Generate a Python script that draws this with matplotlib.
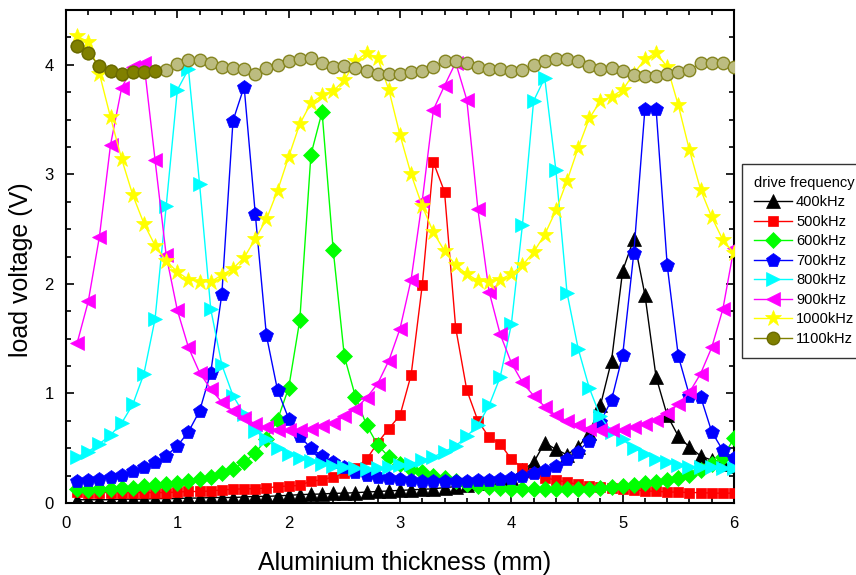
import matplotlib
matplotlib.use('Agg')
import matplotlib.pyplot as plt
from matplotlib.ticker import MultipleLocator

plt.rcParams['font.family'] = ['Liberation Sans', 'DejaVu Sans']

# aluminium thickness (mm)
thickness = [0.1, 0.2, 0.3, 0.4, 0.5, 0.6, 0.7, 0.8, 0.9, 1.0,
             1.1, 1.2, 1.3, 1.4, 1.5, 1.6, 1.7, 1.8, 1.9, 2.0,
             2.1, 2.2, 2.3, 2.4, 2.5, 2.6, 2.7, 2.8, 2.9, 3.0,
             3.1, 3.2, 3.3, 3.4, 3.5, 3.6, 3.7, 3.8, 3.9, 4.0,
             4.1, 4.2, 4.3, 4.4, 4.5, 4.6, 4.7, 4.8, 4.9, 5.0,
             5.1, 5.2, 5.3, 5.4, 5.5, 5.6, 5.7, 5.8, 5.9, 6.0]

# load voltage (V) per drive frequency
v400 = [0.03, 0.03, 0.03, 0.03, 0.035, 0.035, 0.035, 0.04, 0.04, 0.04,
        0.045, 0.045, 0.05, 0.05, 0.05, 0.055, 0.06, 0.06, 0.065, 0.07,
        0.076, 0.08, 0.082, 0.088, 0.09, 0.094, 0.10, 0.105, 0.11, 0.115,
        0.12, 0.125, 0.13, 0.14, 0.15, 0.16, 0.18, 0.19, 0.21, 0.23,
        0.30, 0.37, 0.55, 0.49, 0.44, 0.51, 0.64, 0.89, 1.30, 2.12,
        2.41, 1.90, 1.15, 0.80, 0.61, 0.51, 0.43, 0.39, 0.36, 0.34]
v500 = [0.10, 0.095, 0.095, 0.095, 0.095, 0.095, 0.095, 0.095, 0.095, 0.10,
        0.105, 0.105, 0.11, 0.12, 0.125, 0.13, 0.13, 0.137, 0.15, 0.155,
        0.16, 0.20, 0.21, 0.24, 0.27, 0.32, 0.40, 0.55, 0.68, 0.80,
        1.17, 1.99, 3.11, 2.84, 1.60, 1.03, 0.75, 0.60, 0.54, 0.40,
        0.32, 0.27, 0.23, 0.21, 0.19, 0.17, 0.155, 0.15, 0.137, 0.13,
        0.12, 0.11, 0.107, 0.10, 0.10, 0.095, 0.095, 0.09, 0.09, 0.09]
v600 = [0.125, 0.12, 0.125, 0.13, 0.137, 0.14, 0.155, 0.167, 0.17, 0.185,
        0.20, 0.22, 0.24, 0.27, 0.31, 0.37, 0.46, 0.58, 0.76, 1.05,
        1.67, 3.18, 3.57, 2.31, 1.34, 0.97, 0.71, 0.53, 0.42, 0.36,
        0.31, 0.28, 0.25, 0.23, 0.20, 0.175, 0.155, 0.145, 0.135, 0.13,
        0.125, 0.125, 0.125, 0.125, 0.125, 0.13, 0.13, 0.14, 0.15, 0.155,
        0.167, 0.18, 0.19, 0.21, 0.23, 0.26, 0.30, 0.36, 0.42, 0.59]
v700 = [0.20, 0.21, 0.22, 0.24, 0.26, 0.29, 0.33, 0.37, 0.43, 0.52,
        0.65, 0.84, 1.19, 1.91, 3.49, 3.80, 2.64, 1.53, 1.03, 0.77,
        0.61, 0.50, 0.43, 0.37, 0.33, 0.28, 0.26, 0.24, 0.23, 0.22,
        0.21, 0.20, 0.20, 0.20, 0.20, 0.20, 0.21, 0.21, 0.22, 0.23,
        0.25, 0.27, 0.30, 0.34, 0.40, 0.47, 0.57, 0.74, 0.94, 1.35,
        2.28, 3.60, 3.60, 2.17, 1.34, 0.98, 0.97, 0.65, 0.48, 0.41]
v800 = [0.42, 0.47, 0.54, 0.62, 0.73, 0.90, 1.18, 1.68, 2.71, 3.77,
        3.96, 2.91, 1.77, 1.26, 0.98, 0.81, 0.66, 0.58, 0.50, 0.45,
        0.41, 0.38, 0.36, 0.34, 0.33, 0.32, 0.31, 0.32, 0.33, 0.35,
        0.36, 0.39, 0.42, 0.47, 0.52, 0.61, 0.71, 0.89, 1.15, 1.63,
        2.54, 3.67, 3.88, 3.04, 1.92, 1.41, 1.05, 0.79, 0.65, 0.58,
        0.50, 0.45, 0.40, 0.37, 0.35, 0.33, 0.33, 0.33, 0.32, 0.32]
v900 = [1.46, 1.84, 2.43, 3.27, 3.79, 3.98, 4.02, 3.13, 2.26, 1.76,
        1.42, 1.19, 1.04, 0.92, 0.84, 0.78, 0.72, 0.69, 0.67, 0.67,
        0.67, 0.68, 0.70, 0.73, 0.79, 0.86, 0.96, 1.09, 1.30, 1.59,
        2.04, 2.76, 3.59, 3.81, 4.02, 3.68, 2.68, 1.93, 1.54, 1.28,
        1.10, 0.98, 0.88, 0.80, 0.75, 0.71, 0.68, 0.67, 0.67, 0.67,
        0.69, 0.72, 0.76, 0.82, 0.90, 1.01, 1.18, 1.42, 1.77, 2.33]
v1000 = [4.26, 4.21, 3.92, 3.52, 3.14, 2.81, 2.55, 2.35, 2.21, 2.11,
         2.04, 2.02, 2.02, 2.08, 2.14, 2.24, 2.41, 2.59, 2.85, 3.16,
         3.46, 3.65, 3.72, 3.76, 3.86, 4.03, 4.11, 4.06, 3.77, 3.36,
         3.00, 2.71, 2.47, 2.30, 2.17, 2.09, 2.03, 2.02, 2.04, 2.09,
         2.17, 2.29, 2.45, 2.67, 2.94, 3.24, 3.51, 3.67, 3.71, 3.77,
         3.92, 4.05, 4.11, 3.98, 3.63, 3.22, 2.86, 2.61, 2.40, 2.28]
v1100 = [4.17, 4.11, 3.99, 3.94, 3.92, 3.93, 3.93, 3.94, 3.95, 4.01,
         4.04, 4.04, 4.02, 3.98, 3.97, 3.96, 3.92, 3.97, 4.00, 4.03,
         4.05, 4.06, 4.02, 3.98, 3.99, 3.97, 3.94, 3.92, 3.92, 3.92,
         3.93, 3.94, 3.98, 4.03, 4.03, 4.02, 3.98, 3.96, 3.96, 3.94,
         3.95, 4.00, 4.03, 4.05, 4.05, 4.03, 3.99, 3.96, 3.97, 3.94,
         3.91, 3.90, 3.90, 3.92, 3.93, 3.95, 4.02, 4.02, 4.02, 3.98]

labels = ['400kHz', '500kHz', '600kHz', '700kHz', '800kHz', '900kHz', '1000kHz', '1100kHz']
series = [v400, v500, v600, v700, v800, v900, v1000, v1100]
colors = ['#000000', '#ff0000', '#00ff00', '#0000ff', '#00ffff', '#ff00ff', '#ffff00', '#808000']
markers = ['^', 's', 'D', 'p', '>', '<', '*', 'o']
msizes = [10, 7.5, 8, 10, 10, 10, 12, 9]

fig = plt.figure(figsize=(8.56, 5.75), dpi=100)
ax = fig.add_axes([66 / 856, 1 - 503 / 575, 668 / 856, 493 / 575])

for vals, lab, c, m, ms in zip(series, labels, colors, markers, msizes):
    if lab == '1100kHz':
        # lighter balls, the first few drawn dark as in the original
        ax.plot(thickness, vals, color=c, lw=1, marker=m, ms=ms,
                mfc='#bcbc80', mec='#858520', mew=1, zorder=3)
        ax.plot(thickness[:8], vals[:8], ls='none', marker=m, ms=ms,
                mfc=c, mec='#6a6a00', mew=1, zorder=3)
        ax.plot([], [], color=c, lw=1, marker=m, ms=ms, mfc=c, mec='#6a6a00', label=lab)
    else:
        ax.plot(thickness, vals, color=c, lw=1, marker=m, ms=ms,
                mec=c, mew=0.5, label=lab, zorder=3)

ax.set_xlim(0, 6)
ax.set_ylim(0, 4.5)
ax.xaxis.set_major_locator(MultipleLocator(1))
ax.xaxis.set_minor_locator(MultipleLocator(0.2))
ax.yaxis.set_major_locator(MultipleLocator(1))
ax.yaxis.set_minor_locator(MultipleLocator(0.25))
ax.tick_params(which='both', direction='in', top=True, right=True, width=1.2, labelsize=12)
ax.tick_params(which='major', length=6)
ax.tick_params(axis='x', which='major', pad=9)
ax.tick_params(axis='y', which='major', pad=9)
ax.tick_params(which='minor', length=3.5)
for sp in ax.spines.values():
    sp.set_linewidth(1.5)

ax.set_xlabel('Aluminium thickness (mm)', fontsize=18)
ax.set_ylabel('load voltage (V)', fontsize=18)
ax.xaxis.set_label_coords(0.507, -0.097)
ax.yaxis.set_label_coords(-0.049, 0.473)

handles, labs = ax.get_legend_handles_labels()
leg = fig.legend(handles, labs, title='drive frequency', loc='upper left',
                 bbox_to_anchor=(742 / 856, 1 - 164 / 575), fontsize=10.5,
                 title_fontsize=10.5, frameon=True, fancybox=False,
                 handlelength=2.6, handletextpad=0.3, labelspacing=0.38,
                 borderpad=0.8, borderaxespad=0)
leg.get_frame().set_edgecolor('black')
leg.get_frame().set_linewidth(1)
leg._legend_box.align = 'left'

fig.savefig('out.png', dpi=100)
